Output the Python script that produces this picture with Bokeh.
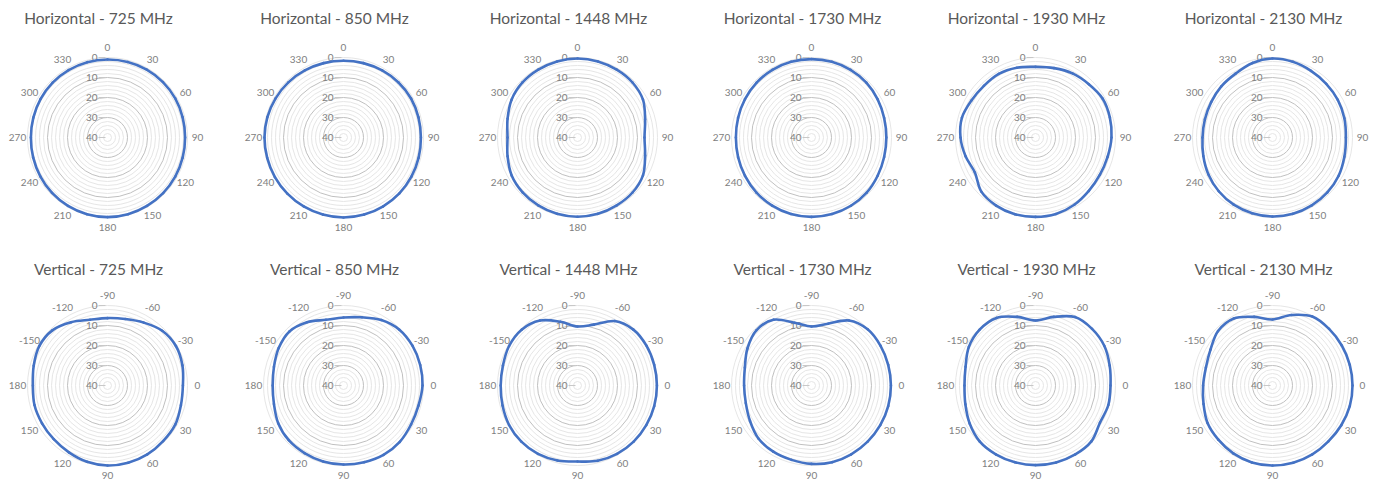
import numpy as np
from bokeh.plotting import figure
from bokeh.layouts import gridplot
from bokeh.models import Range1d
from bokeh.core.properties import value
from bokeh.embed import file_html
from bokeh.resources import INLINE

# ---------------- data ----------------
# display angle, clockwise from the top of each chart, degrees
ANGLES = list(range(0, 360, 15))
# angle tick labels (every 30 degrees, clockwise from top)
H_LABELS = ["0", "30", "60", "90", "120", "150", "180", "210", "240", "270", "300", "330"]
V_LABELS = ["-90", "-60", "-30", "0", "30", "60", "90", "120", "150", "180", "-150", "-120"]
RADIAL_TICKS = [0, 10, 20, 30, 40]
FREQS = ["725", "850", "1448", "1730", "1930", "2130"]

# attenuation below peak (dB) at ANGLES
h725 = [1.0, 0.9, 0.8, 0.8, 0.9, 1.1, 1.2, 1.1, 0.9, 0.7, 0.5, 0.3,
        0.2, 0.3, 0.5, 0.8, 1.2, 1.5, 1.7, 1.6, 1.4, 1.2, 1.1, 1.0]
h850 = [1.6, 1.5, 1.3, 1.1, 1.0, 1.2, 1.3, 1.1, 0.8, 0.5, 0.3, 0.1,
        0.0, 0.1, 0.2, 0.3, 0.4, 0.5, 0.5, 0.6, 0.8, 1.0, 1.3, 1.5]
h1448 = [0.5, 0.6, 0.8, 1.1, 2.2, 5.0, 6.5, 5.0, 2.2, 1.1, 0.8, 0.5,
         0.4, 0.5, 0.8, 1.2, 2.0, 3.8, 5.0, 3.8, 2.0, 1.1, 0.8, 0.6]
h1730 = [0.8, 0.8, 0.9, 1.2, 1.8, 2.4, 2.6, 2.4, 1.8, 1.0, 0.6, 0.4,
         0.3, 0.4, 0.7, 1.1, 1.6, 2.0, 2.2, 2.0, 1.6, 1.2, 0.9, 0.8]
h1930 = [4.7, 4.1, 3.0, 2.3, 1.2, 1.5, 2.0, 2.7, 2.8, 2.3, 1.2, 0.4,
         0.3, 0.3, 0.7, 1.7, 5.0, 3.8, 2.5, 1.9, 3.0, 3.5, 3.3, 3.9]
h2130 = [0.5, 0.8, 1.5, 2.0, 2.3, 2.8, 3.3, 2.8, 1.8, 1.2, 0.8, 0.5,
         0.5, 0.8, 1.2, 2.0, 3.0, 4.2, 5.0, 5.0, 4.6, 3.8, 3.1, 1.4]

v725 = [6.3, 5.6, 3.7, 1.3, 0.5, 1.2, 2.3, 2.0, 0.9, 0.7, 0.2, 0.0,
        0.0, 0.5, 1.4, 2.0, 2.2, 2.2, 2.7, 1.8, 0.6, 1.0, 3.5, 6.0]
v850 = [6.0, 4.7, 2.2, 0.5, 0.2, 0.3, 0.5, 1.2, 1.0, 0.2, 0.0, 0.3,
        0.5, 0.7, 1.0, 1.3, 2.3, 4.0, 4.6, 4.0, 2.6, 1.8, 3.5, 6.0]
v1448 = [10.5, 8.5, 2.8, 0.5, 0.2, 0.3, 0.3, 0.3, 0.3, 0.3, 0.5, 1.0,
         2.0, 1.2, 0.5, 0.3, 0.5, 1.2, 1.6, 1.4, 0.5, 0.5, 2.5, 7.0]
v1730 = [10.5, 8.0, 2.5, 0.3, 0.2, 0.3, 0.3, 0.3, 0.3, 0.3, 0.3, 0.3,
         0.8, 1.5, 1.8, 2.5, 4.5, 6.0, 6.3, 5.5, 3.0, 1.0, 2.0, 7.5]
v1930 = [7.5, 4.5, 0.5, 0.0, 0.3, 1.6, 2.5, 2.3, 2.8, 0.5, 0.2, 0.2,
         0.2, 0.3, 0.3, 0.5, 2.0, 3.7, 4.5, 3.8, 1.5, 0.5, 1.0, 4.5]
v2130 = [7.0, 3.5, 0.2, 0.0, 0.0, 0.0, 0.0, 0.0, 0.3, 0.5, 0.2, 0.0,
         0.0, 0.2, 0.8, 1.7, 2.5, 4.3, 5.3, 5.5, 4.2, 1.5, 1.3, 4.5]

H_SERIES = [h725, h850, h1448, h1730, h1930, h2130]
V_SERIES = [v725, v850, v1448, v1730, v1930, v2130]

# ---------------- layout / style ----------------
SCALE = 2.0             # px per dB
RMAX = 40
COL_W = [225, 235, 234, 229, 231, 219]
COL_CX = [107, 118, 117, 117, 112, 118]
ROW_H = [241, 241]
ROW_CY = [137, 144]
ROW_TITLE_Y = [17, 27]
LABEL_R = 45.0
FONT = "Lato"
BLUE = "#4472C4"
MINOR = "#E6E6E6"
MAJOR = "#C0C0C0"
TXT = "#808080"


def make_chart(title, att, labels, w, cx, h, cy, ty):
    p = figure(width=w, height=h, output_backend="svg", toolbar_location=None,
               x_range=Range1d(-cx / SCALE, (w - cx) / SCALE),
               y_range=Range1d(-(h - cy) / SCALE, cy / SCALE),
               x_axis_type=None, y_axis_type=None, min_border=0,
               outline_line_color=None, background_fill_color=None,
               border_fill_color=None)
    p.grid.visible = False

    # circular grid: every 2 dB, majors every 10
    minor_r = [RMAX - d for d in range(0, 40, 2) if d % 10 != 0 or d == 0]
    major_r = [RMAX - d for d in (10, 20, 30)]
    p.circle(x=[0] * len(minor_r), y=[0] * len(minor_r), radius=minor_r,
             fill_color=None, line_color=MINOR, line_width=1)
    p.circle(x=[0] * len(major_r), y=[0] * len(major_r), radius=major_r,
             fill_color=None, line_color=MAJOR, line_width=1)

    # radial value labels + ticks
    ry = [RMAX - t for t in RADIAL_TICKS]
    p.segment(x0=[-4.5] * len(ry), y0=ry, x1=[-1.0] * len(ry), y1=ry,
              line_color="#C8C8C8", line_width=1)
    p.text(x=[-5.0] * len(ry), y=ry, text=[str(t) for t in RADIAL_TICKS],
           text_align="right", text_baseline="middle",
           text_font=value(FONT), text_font_size="10px", text_color=TXT)

    # data line: smooth closed curve through the measured points
    th = np.radians(np.array(ANGLES, dtype=float))
    r = RMAX - np.array(att, dtype=float)
    px, py = r * np.sin(th), r * np.cos(th)
    n = len(px)
    i0 = np.arange(n)
    im1, i1, i2 = (i0 - 1) % n, (i0 + 1) % n, (i0 + 2) % n
    p.bezier(x0=px, y0=py, x1=px[i1], y1=py[i1],
             cx0=px + (px[i1] - px[im1]) / 6.0, cy0=py + (py[i1] - py[im1]) / 6.0,
             cx1=px[i1] - (px[i2] - px[i0]) / 6.0, cy1=py[i1] - (py[i2] - py[i0]) / 6.0,
             line_color=BLUE, line_width=2.6, line_cap="round")

    # angle labels
    lt = np.radians(np.arange(0, 360, 30))
    p.text(x=LABEL_R * np.sin(lt), y=LABEL_R * np.cos(lt), text=labels,
           text_align="center", text_baseline="middle",
           text_font=value(FONT), text_font_size="10px", text_color=TXT)

    # title
    p.text(x=[-4.5], y=[cy / SCALE - ty / SCALE], text=[title],
           text_align="center", text_baseline="middle",
           text_font=value(FONT), text_font_size="15.5px", text_color="#595959")
    return p


rows = []
for ri, (kind, series, labels) in enumerate([("Horizontal", H_SERIES, H_LABELS),
                                              ("Vertical", V_SERIES, V_LABELS)]):
    row_figs = []
    for ci, f in enumerate(FREQS):
        row_figs.append(make_chart(f"{kind} - {f} MHz", series[ci], labels,
                                   COL_W[ci], COL_CX[ci], ROW_H[ri], ROW_CY[ri],
                                   ROW_TITLE_Y[ri]))
    rows.append(row_figs)

grid = gridplot(rows, toolbar_location=None)

open("out.html", "w").write(file_html(grid, INLINE))
